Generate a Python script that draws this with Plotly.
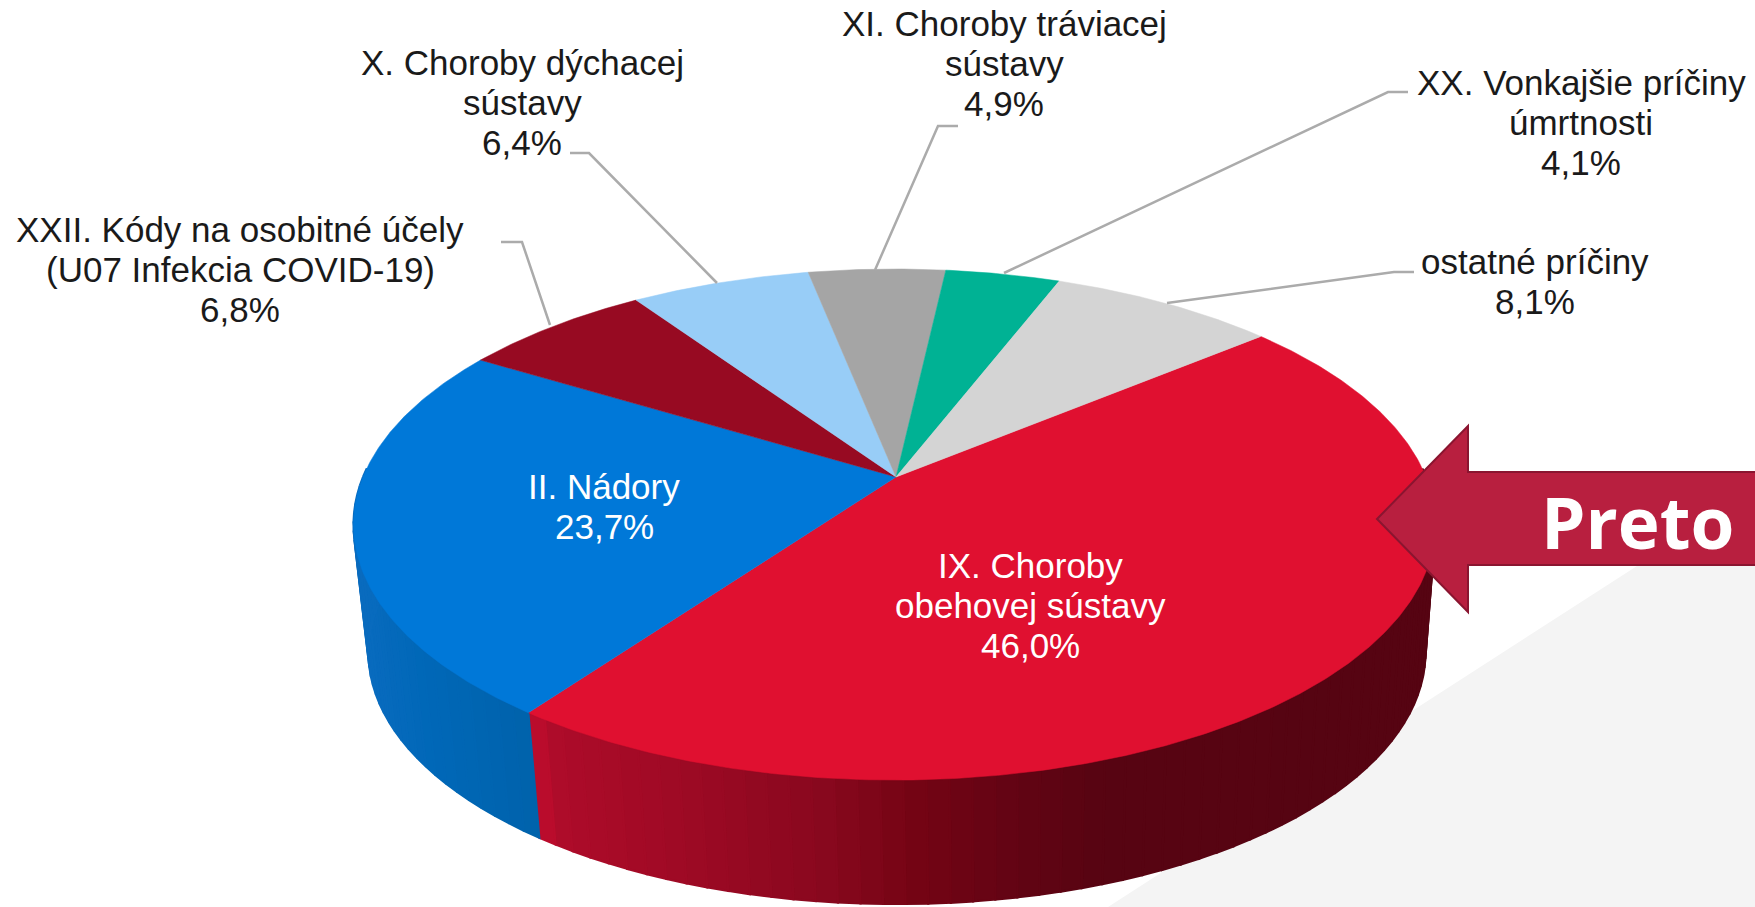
import numpy as np
import plotly.graph_objects as go

# ---- data (clockwise from the first slice) ----
names = [
    "IX. Choroby<br>obehovej sústavy",
    "II. Nádory",
    "XXII. Kódy na osobitné účely<br>(U07 Infekcia COVID-19)",
    "X. Choroby dýchacej<br>sústavy",
    "XI. Choroby tráviacej<br>sústavy",
    "XX. Vonkajšie príčiny<br>úmrtnosti",
    "ostatné príčiny",
]
values = [46.0, 23.7, 6.8, 6.4, 4.9, 4.1, 8.1]
slice_colors = ["#e01030", "#0078d8", "#970a22", "#98cdf7", "#a5a5a5", "#00b294", "#d4d4d4"]
label_colors = ["#ffffff", "#ffffff", "#1a1a1a", "#1a1a1a", "#1a1a1a", "#1a1a1a", "#1a1a1a"]
label_x = [1030, 604, 240, 522, 1004, 1581, 1535]
label_y = [565, 486.5, 229, 62.5, 23.5, 82.5, 261.5]
leaders = [
    None, None,
    ([501, 522, 550], [242, 242, 325]),
    ([570, 589, 717], [153, 153, 283]),
    ([958, 938, 875], [126, 126, 270]),
    ([1408, 1388, 1004], [92, 92, 273]),
    ([1414, 1394, 1167], [272, 272, 303]),
]
callout = "Preto"

# ---- projection of the tilted disc ----
CX, CY = 896.0, 477.0
A, B, K, L = 531.5, 246.7, 0.186, 0.0028
START = 50.3
SX, SY, DX, DY = 0.977, 0.985, 2.5, 128.5
LINE_STEP = 40
SIDE_FROM, SIDE_TO = 88.0, 272.0  # part of the rim that faces the viewer


def top(theta):
    t = np.radians(theta)
    u, v = np.sin(t), np.cos(t)
    w = 1 + K * v + L * u
    return A * u / w, B * v / w


def bottom(theta):
    X, Y = top(theta)
    return SX * X + DX, SY * Y - DY


def hexrgb(c):
    return np.array([int(c[i:i + 2], 16) for i in (1, 3, 5)], float)


def shade(x, stops):
    xs = [s[0] for s in stops]
    cols = np.array([hexrgb(s[1]) for s in stops])
    r = [np.interp(x, xs, cols[:, i]) for i in range(3)]
    return "rgb(%d,%d,%d)" % tuple(r)


side_stops = {
    0: [(528, "#c40c2e"), (560, "#ae0c2a"), (700, "#9c0a24"), (830, "#88081e"), (920, "#740414"),
        (1020, "#620414"), (1100, "#580412"), (1430, "#560412")],
    1: [(350, "#0b6cc0"), (430, "#0068b8"), (530, "#0063ac")],
}

fig = go.Figure()
no_hover = dict(hoverinfo="skip", showlegend=False)

# background band
fig.add_shape(type="path", path="M 1108 907 L 1755 907 L 1755 566 L 1637 566 Z",
              fillcolor="#f4f4f4", line_width=0, layer="below")

edges = START + np.cumsum([0] + values) * 3.6

# sides of the slices that face the viewer
for i, (a0, a1) in enumerate(zip(edges[:-1], edges[1:])):
    if i not in side_stops:
        continue
    a0, a1 = max(a0, SIDE_FROM), min(a1, SIDE_TO)
    n = int(max(8, (a1 - a0) / 2.0))
    steps = np.linspace(a0, a1, n + 1)
    for t0, t1 in zip(steps[:-1], steps[1:]):
        tt = np.linspace(t0, t1, 4)
        x1, y1 = top(tt)
        x2, y2 = bottom(tt)
        xs = np.r_[x1, x2[::-1], x1[0]] + CX
        ys = CY - np.r_[y1, y2[::-1], y1[0]]
        col = shade(xs.mean(), side_stops[i])
        fig.add_trace(go.Scatter(x=xs, y=ys, mode="lines", fill="toself", fillcolor=col,
                                 line=dict(color=col, width=2.2), **no_hover))

# top faces
for i, (a0, a1) in enumerate(zip(edges[:-1], edges[1:])):
    tt = np.linspace(a0, a1, int((a1 - a0) * 2) + 2)
    X, Y = top(tt)
    xs = np.r_[0, X, 0] + CX
    ys = CY - np.r_[0, Y, 0]
    fig.add_trace(go.Scatter(x=xs, y=ys, mode="lines", fill="toself", fillcolor=slice_colors[i],
                             line=dict(color=slice_colors[i], width=0.5), name=names[i].replace("<br>", " "),
                             hoverinfo="name", showlegend=False))

# leader lines
for seg in leaders:
    if seg:
        fig.add_trace(go.Scatter(x=seg[0], y=seg[1], mode="lines",
                                 line=dict(color="#ababab", width=2.5), **no_hover))

# labels, one text per line so the line pitch can follow the picture
for n, v, c, x, y in zip(names, values, label_colors, label_x, label_y):
    num = f"{v:.1f}".replace(".", ",") + "%"
    for j, line in enumerate(n.split("<br>") + [num]):
        fig.add_annotation(x=x, y=y + j * LINE_STEP, text=line, showarrow=False, xanchor="center", yanchor="middle",
                           font=dict(family="Liberation Sans", size=35, color=c))

# callout arrow
fig.add_shape(type="path",
              path="M 1377 519 L 1468 426 L 1468 472 L 1760 472 L 1760 565 L 1468 565 L 1468 612 Z",
              fillcolor="#b81f3f", line=dict(color="#8a1530", width=2), layer="above")
fig.add_annotation(x=1637.5, y=521, text=f"<b>{callout}</b>", showarrow=False, xanchor="center", yanchor="middle",
                   font=dict(family="Open Sans", size=71, color="#ffffff"))

fig.update_layout(width=1755, height=907, margin=dict(l=0, r=0, t=0, b=0), autosize=False,
                  paper_bgcolor="#ffffff", plot_bgcolor="#ffffff", showlegend=False,
                  xaxis=dict(range=[0, 1755], visible=False, fixedrange=True),
                  yaxis=dict(range=[907, 0], visible=False, fixedrange=True))

fig.write_html("out.html", post_script="document.body.style.margin='0';document.body.style.overflow='hidden';",
               config={"displayModeBar": False})
